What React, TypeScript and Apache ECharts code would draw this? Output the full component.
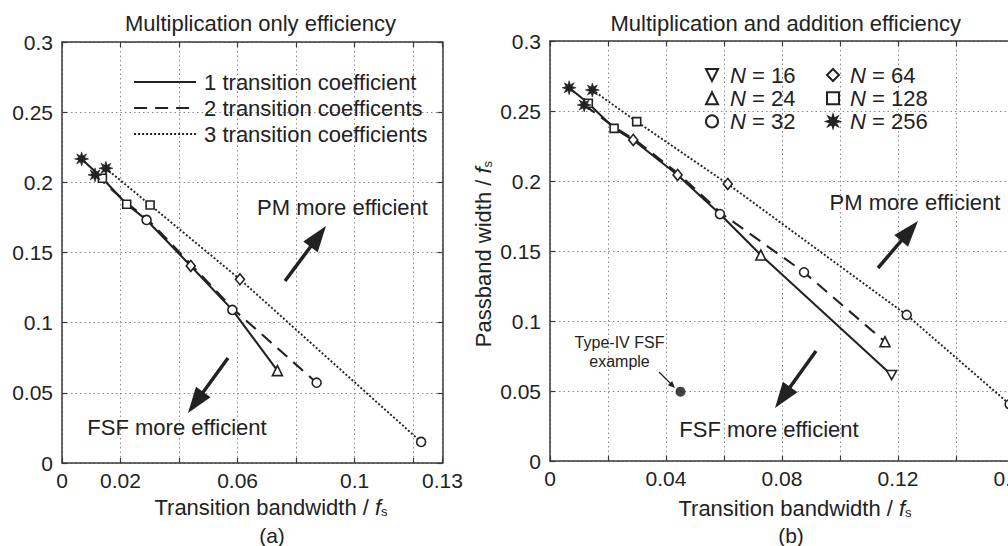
import React, { useEffect, useRef } from "react";
import * as echarts from "echarts";

// ---------- data ----------
const yTickValues = [0, 0.05, 0.1, 0.15, 0.2, 0.25, 0.3];
const xTickLabelsA = [0, 0.02, 0.06, 0.1, 0.13];
const xTickLabelsB = [0, 0.04, 0.08, 0.12, 0.16];

const lineNames = ["1 transition coefficient", "2 transition coefficents", "3 transition coefficients"];
const nValues = ["16", "24", "32", "64", "128", "256"];

// Panel (a): multiplication only
const aSolidX = [0.0067, 0.0138, 0.0221, 0.0289, 0.044, 0.0582, 0.0736];
const aSolidY = [0.2167, 0.2029, 0.1844, 0.1732, 0.1404, 0.1091, 0.0658];
const aSolidM = ["256", "128", "128", "32", "64", "32", "24"];
const aDashX = [0.0113, 0.0227, 0.0295, 0.0446, 0.0588, 0.087];
const aDashY = [0.2053, 0.1844, 0.1732, 0.1404, 0.1091, 0.0572];
const aDashM = ["256", "", "", "", "", "32"];
const aDotX = [0.015, 0.0301, 0.0608, 0.1227];
const aDotY = [0.21, 0.1839, 0.1309, 0.015];
const aDotM = ["256", "128", "64", "32"];

// Panel (b): multiplication and addition
const bSolidX = [0.0066, 0.0132, 0.0221, 0.0287, 0.044, 0.0586, 0.0727, 0.1178];
const bSolidY = [0.2666, 0.2555, 0.2376, 0.2293, 0.2043, 0.1764, 0.1471, 0.0614];
const bSolidM = ["256", "128", "128", "64", "64", "32", "24", "16"];
const bDashX = [0.0118, 0.0228, 0.0294, 0.0448, 0.0594, 0.0876, 0.1155];
const bDashY = [0.2543, 0.2376, 0.2293, 0.2043, 0.1764, 0.1348, 0.0852];
const bDashM = ["256", "", "", "", "", "32", "24"];
const bDotX = [0.0146, 0.0299, 0.0613, 0.123, 0.1585];
const bDotY = [0.265, 0.2424, 0.1979, 0.1043, 0.0405];
const bDotM = ["256", "128", "64", "32", "32"];

const typeIVX = [0.045];
const typeIVY = [0.0495];

// ---------- styles ----------
const FONT = '"Liberation Sans", Arial, Helvetica, sans-serif';
const INK = "#222222";
const AXIS = "#3a3a3a";
const GRIDC = "#8a8a8a";

const STAR =
  "path://M0,-10L1.8,-4.2L7.1,-7.1L4.2,-1.8L10,0L4.2,1.8L7.1,7.1L1.8,4.2L0,10L-1.8,4.2L-7.1,7.1L-4.2,1.8L-10,0L-4.2,-1.8L-7.1,-7.1L-1.8,-4.2Z";
const markerStyle: Record<string, any> = {
  "256": { symbol: STAR, size: 14, fill: INK },
  "128": { symbol: "rect", size: 8, fill: "#fff" },
  "64": { symbol: "path://M0,-1L1,0L0,1L-1,0Z", size: [9, 11], fill: "#fff" },
  "32": { symbol: "circle", size: 9, fill: "#fff" },
  "24": { symbol: "triangle", size: 10, fill: "#fff" },
  "16": { symbol: "path://M-1,-1L1,-1L0,1Z", size: [10, 9], fill: "#fff" },
};
const lineStyles = [
  { type: "solid", width: 2.1 },
  { type: [13, 8], width: 2.1 },
  { type: [2, 2], width: 1.9 },
];

function fmt(v: number, allowed: number[]) {
  const r = Math.round(v * 1000) / 1000;
  return allowed.some((a) => Math.abs(a - r) < 1e-6) ? String(r) : "";
}

function xAx(grid: number, max: number, labels: number[], top: boolean) {
  return {
    type: "value",
    gridIndex: grid,
    min: 0,
    max,
    interval: 0.02,
    position: top ? "top" : "bottom",
    axisLine: { show: true, onZero: false, lineStyle: { color: AXIS, width: 1.5 } },
    axisTick: { show: true, inside: true, length: 5, lineStyle: { color: AXIS, width: 1.2 } },
    axisLabel: top
      ? { show: false }
      : {
          show: true,
          margin: 7,
          fontSize: 21,
          fontFamily: FONT,
          color: INK,
          showMinLabel: true,
          showMaxLabel: true,
          formatter: (v: number) => fmt(v, labels),
        },
    splitLine: top ? { show: false } : { show: true, lineStyle: { color: GRIDC, type: [1.5, 3], width: 1 } },
  };
}

function yAx(grid: number, right: boolean) {
  return {
    type: "value",
    gridIndex: grid,
    min: 0,
    max: 0.3,
    interval: 0.05,
    position: right ? "right" : "left",
    axisLine: { show: true, onZero: false, lineStyle: { color: AXIS, width: 1.5 } },
    axisTick: { show: true, inside: true, length: 5, lineStyle: { color: AXIS, width: 1.2 } },
    axisLabel: right
      ? { show: false }
      : { show: true, margin: 9, fontSize: 21, fontFamily: FONT, color: INK, formatter: (v: number) => fmt(v, yTickValues) },
    splitLine: right ? { show: false } : { show: true, lineStyle: { color: GRIDC, type: [1.5, 3], width: 1 } },
  };
}

type Line = [number[], number[], string[]];

function panelSeries(xi: number, yi: number, lines: Line[]) {
  const out: any[] = [];
  lines.forEach(([xs, ys], k) => {
    out.push({
      type: "line",
      name: lineNames[k],
      xAxisIndex: xi,
      yAxisIndex: yi,
      data: xs.map((x, i) => [x, ys[i]]),
      symbol: "none",
      itemStyle: { color: INK },
      lineStyle: { color: INK, ...lineStyles[k] },
      z: 3,
    });
  });
  nValues.forEach((n) => {
    const pts: number[][] = [];
    lines.forEach(([xs, ys, ms]) => xs.forEach((x, i) => { if (ms[i] === n) pts.push([x, ys[i]]); }));
    const m = markerStyle[n];
    out.push({
      type: "scatter",
      name: `N = ${n}`,
      xAxisIndex: xi,
      yAxisIndex: yi,
      data: pts,
      symbol: m.symbol,
      symbolSize: m.size,
      itemStyle: { color: m.fill, borderColor: INK, borderWidth: n === "256" ? 0.6 : 1.6, opacity: 1 },
      z: 5,
    });
  });
  return out;
}

function arrow(x1: number, y1: number, x2: number, y2: number, w: number, hl: number, hw: number) {
  const dx = x2 - x1, dy = y2 - y1, L = Math.hypot(dx, dy);
  const ux = dx / L, uy = dy / L, px = -uy, py = ux;
  const bx = x2 - ux * hl, by = y2 - uy * hl;
  return [
    { type: "line", shape: { x1, y1, x2: bx + ux, y2: by + uy }, style: { stroke: INK, lineWidth: w }, z: 10 },
    {
      type: "polygon",
      shape: { points: [[x2, y2], [bx + (px * hw) / 2, by + (py * hw) / 2], [bx - (px * hw) / 2, by - (py * hw) / 2]] },
      style: { fill: INK },
      z: 10,
    },
  ];
}

function txt(x: number, y: number, text: string, size: number, extra: any = {}) {
  return {
    type: "text",
    x,
    y,
    z: 10,
    style: { text, fontSize: size, fontFamily: FONT, fill: INK, align: "center", verticalAlign: "middle", ...extra },
  };
}

const richName = {
  n: { fontSize: 22, fontFamily: FONT, color: INK },
  f: { fontSize: 22, fontFamily: FONT, color: INK, fontStyle: "italic" },
  s: { fontSize: 13, fontFamily: FONT, color: INK, verticalAlign: "bottom" },
};

const legendText = {
  fontSize: 22,
  fontFamily: FONT,
  color: INK,
  rich: {
    i: { fontSize: 22, fontFamily: FONT, color: INK, fontStyle: "italic" },
    r: { fontSize: 22, fontFamily: FONT, color: INK },
  },
};

export default function App() {
  const ref = useRef<HTMLDivElement>(null);
  useEffect(() => {
    const chart = echarts.init(ref.current!, undefined, { renderer: "svg" });
    const option: any = {
      animation: false,
      backgroundColor: "#fff",
      grid: [
        { left: 62, top: 42, width: 380.5, height: 421, outerBoundsMode: "none", containLabel: false },
        { left: 550, top: 41, width: 464, height: 420, outerBoundsMode: "none", containLabel: false },
      ],
      xAxis: [xAx(0, 0.13, xTickLabelsA, false), xAx(0, 0.13, xTickLabelsA, true), xAx(1, 0.16, xTickLabelsB, false), xAx(1, 0.16, xTickLabelsB, true)],
      yAxis: [yAx(0, false), yAx(0, true), yAx(1, false)],
      legend: [
        {
          orient: "vertical",
          left: 128,
          top: 66,
          data: lineNames,
          itemWidth: 62,
          itemHeight: 14,
          itemGap: 4,
          selectedMode: false,
          itemStyle: { opacity: 0 },
          lineStyle: { width: 2.2 },
          textStyle: { fontSize: 22, fontFamily: FONT, color: INK, padding: [0, 0, 0, 3] },
        },
        {
          orient: "vertical",
          left: 700,
          top: 59,
          data: ["N = 16", "N = 24", "N = 32"],
          itemWidth: 12,
          itemHeight: 12,
          itemGap: 1.2,
          selectedMode: false,
          formatter: (name: string) => `{i|N}{r|${name.slice(1)}}`,
          textStyle: { ...legendText, padding: [0, 0, 0, 7] },
        },
        {
          orient: "vertical",
          left: 821,
          top: 59,
          data: ["N = 64", "N = 128", "N = 256"],
          itemWidth: 12,
          itemHeight: 12,
          itemGap: 1.2,
          selectedMode: false,
          formatter: (name: string) => `{i|N}{r|${name.slice(1)}}`,
          textStyle: { ...legendText, padding: [0, 0, 0, 6] },
        },
      ],
      series: [
        ...panelSeries(0, 0, [
          [aSolidX, aSolidY, aSolidM],
          [aDashX, aDashY, aDashM],
          [aDotX, aDotY, aDotM],
        ]),
        ...panelSeries(2, 2, [
          [bSolidX, bSolidY, bSolidM],
          [bDashX, bDashY, bDashM],
          [bDotX, bDotY, bDotM],
        ]),
        {
          type: "scatter",
          name: "Type-IV FSF example",
          xAxisIndex: 2,
          yAxisIndex: 2,
          data: typeIVX.map((x, i) => [x, typeIVY[i]]),
          symbol: "circle",
          symbolSize: 10,
          itemStyle: { color: "#111" },
          z: 6,
        },
      ],
      graphic: [
        txt(260.5, 23, "Multiplication only efficiency", 22),
        txt(785.8, 23, "Multiplication and addition efficiency", 22),
        txt(271, 507, "{n|Transition bandwidth / }{f|f}{s|s}", 22, { rich: richName }),
        txt(795, 508, "{n|Transition bandwidth / }{f|f}{s|s}", 22, { rich: richName }),
        txt(272, 535, "(a)", 21),
        txt(791, 535, "(b)", 21),
        { ...txt(483, 254, "{n|Passband width / }{f|f}{s|s}", 22, { rich: richName }), rotation: Math.PI / 2 },
        txt(342.5, 207, "PM more efficient", 22),
        txt(177, 427, "FSF more efficient", 22),
        txt(915, 202.5, "PM more efficient", 22),
        txt(769, 429, "FSF more efficient", 22),
        txt(619.5, 342, "Type-IV FSF", 16),
        txt(619.5, 361.5, "example", 16),
        ...arrow(285, 281, 326, 226, 3.5, 26, 18),
        ...arrow(228, 358, 188, 413, 3.5, 26, 18),
        ...arrow(878, 268, 918, 221, 3.5, 26, 18),
        ...arrow(816, 351, 775, 408, 3.5, 26, 18),
        ...arrow(659, 372, 675, 388, 1.3, 7, 6),
      ],
    };
    chart.setOption(option);
    return () => chart.dispose();
  }, []);
  return (
    <div
      ref={ref}
      style={{ position: "fixed", left: 0, top: 0, width: 1008, height: 546, background: "#fff" }}
    />
  );
}
